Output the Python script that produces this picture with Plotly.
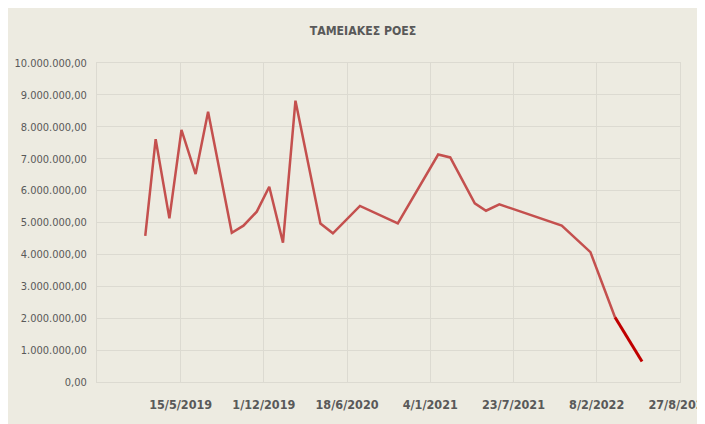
import plotly.graph_objects as go

# ---- data ----
dates = [
    "2019-02-19", "2019-03-16", "2019-04-18", "2019-05-17", "2019-06-20",
    "2019-07-20", "2019-09-15", "2019-10-13", "2019-11-14", "2019-12-14",
    "2020-01-16", "2020-02-15", "2020-04-15", "2020-05-15", "2020-07-19",
    "2020-10-18", "2021-01-23", "2021-02-21", "2021-04-21", "2021-05-18",
    "2021-06-19", "2021-11-16", "2022-01-24", "2022-03-24",
]
cash_flows = [
    4580000, 7610000, 5130000, 7900000, 6520000,
    8470000, 4680000, 4900000, 5340000, 6120000,
    4370000, 8820000, 4970000, 4660000, 5520000,
    4970000, 7130000, 7040000, 5600000, 5370000,
    5570000, 4900000, 4070000, 2030000,
]
proj_dates = ["2022-03-24", "2022-05-28"]
proj_values = [2030000, 640000]

title_text = "ΤΑΜΕΙΑΚΕΣ ΡΟΕΣ"
x_tickvals = ["2019-05-15", "2019-12-01", "2020-06-18", "2021-01-04",
              "2021-07-23", "2022-02-08", "2022-08-27"]
x_ticktext = ["15/5/2019", "1/12/2019", "18/6/2020", "4/1/2021",
              "23/7/2021", "8/2/2022", "27/8/2022"]
x_range = ["2018-10-26", "2022-08-27 06:00"]
y_tickvals = [i * 1000000 for i in range(11)]

BG = "#EDEBE1"
GRID = "#DCDAD1"
TXT = "#595959"
FONT = "DejaVu Sans Condensed, Liberation Sans Narrow, sans-serif"

fig = go.Figure()
fig.add_trace(go.Scatter(x=dates, y=cash_flows, mode="lines",
                         line=dict(color="#C4504E", width=2.5),
                         hoverinfo="skip", showlegend=False))
fig.add_trace(go.Scatter(x=proj_dates, y=proj_values, mode="lines",
                         line=dict(color="#C00000", width=3),
                         hoverinfo="skip", showlegend=False))

# page has an 8px body margin; figure runs past the window's right/bottom edges
W, H = 705, 424
L, R, T, B = 89, 33, 55, 50

fig.update_layout(
    width=W, height=H,
    margin=dict(l=L, r=R, t=T, b=B, pad=0, autoexpand=False),
    paper_bgcolor=BG, plot_bgcolor=BG,
    separators=",.",
    title=dict(text="<b>" + title_text + "</b>", x=355 / W, xanchor="center",
               y=1 - 23 / H, yanchor="middle", xref="container", yref="container",
               font=dict(family=FONT, size=12.2, color=TXT)),
    xaxis=dict(type="date", range=x_range, tickmode="array",
               tickvals=x_tickvals, ticktext=["<b>" + t + "</b>" for t in x_ticktext],
               showgrid=True, gridcolor=GRID, gridwidth=1, automargin=False,
               showline=True, linecolor=GRID, mirror=True, zeroline=False,
               ticks="", ticklabelstandoff=11, tickangle=0,
               ticklabeloverflow="allow",
               tickfont=dict(family=FONT, size=12.5, color=TXT)),
    yaxis=dict(range=[0, 10000000], tickmode="array", tickvals=y_tickvals,
               tickformat=",.2f", showgrid=True, gridcolor=GRID, gridwidth=1,
               showline=True, linecolor=GRID, mirror=True, zeroline=False,
               ticks="", ticklabelstandoff=7, automargin=False,
               tickfont=dict(family=FONT, size=11, color=TXT)),
)

fig.write_html("out.html")
